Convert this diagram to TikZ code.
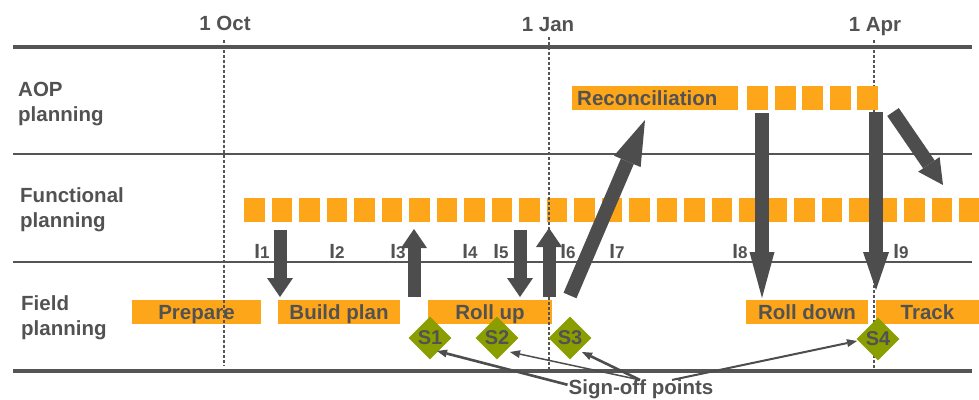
\documentclass[tikz,border=0pt]{standalone}
\usepackage{fontspec}
\setmainfont{Liberation Sans}
\usetikzlibrary{arrows.meta,shapes.geometric,calc}
\definecolor{org}{RGB}{253,166,26}
\definecolor{dg}{RGB}{77,77,77}
\definecolor{olv}{RGB}{138,158,0}
\definecolor{txt}{RGB}{82,82,82}
\definecolor{ln}{RGB}{85,85,85}
\begin{document}
\begin{tikzpicture}[x=1pt,y=-1pt,
  lab/.style={font=\fontsize{20.5}{25}\selectfont\bfseries, text=txt, inner sep=0pt},
  rowlab/.style={lab, anchor=base west, align=left},
  datelab/.style={lab, anchor=base},
  bar/.style={fill=org, draw=none, lab, minimum height=24pt, text height=15pt, text depth=0pt},
  ilab/.style={lab, anchor=base},
  sq/.style={fill=org},
  rowline/.style={draw=ln, line width=2pt},
  edgeline/.style={draw=ln, line width=3.2pt},
  datedash/.style={draw=ln, line width=1.6pt, dash pattern=on 3pt off 2pt},
  bigarrow/.style={draw=dg, line width=13pt},
  sshort/.style={bigarrow, -{Triangle[length=19pt,width=26pt,line width=0pt]}},
  slong/.style={bigarrow, line width=13.5pt, -{Triangle[length=44pt,width=26pt,line width=0pt]}},
  signoff/.style={draw=dg, -{Triangle[length=10pt,width=8pt,line width=0pt]}},
  sdia/.style={diamond, fill=olv, minimum width=43pt, minimum height=43pt, inner sep=0pt,
    font=\fontsize{20}{22}\selectfont\bfseries, text=txt}
]
\useasboundingbox (0,0) rectangle (979,399);

% date labels
\node[datelab] (oct) at (225,30) {1 Oct};
\node[datelab] (jan) at (548,31) {1 Jan};
\node[datelab] (apr) at (875,31) {1 Apr};

% horizontal rules
\draw[edgeline] (13,47) -- (972,47);
\draw[rowline] (13,154) -- (972,154);
\draw[rowline] (13,262) -- (972,262);
\draw[edgeline] (13,371) -- (972,371);

% 1 Apr line (behind bars)
\draw[datedash, line width=1.2pt] (874,40) -- (874,371);

% row labels (base = last line baseline)
\node[rowlab] (aop) at (18,121) {AOP\\planning};
\node[rowlab] (fun) at (20,227) {Functional\\planning};
\node[rowlab] (fld) at (21,335) {Field\\planning};

% functional planning squares
\foreach \i in {0,...,26}{
  \fill[sq] ({244+27.5*\i},198) rectangle ++(20.5,24);
}
% reconciliation bar and squares
\node[bar, anchor=west, inner xsep=5pt, text width=156pt, align=left] (rec) at (572,98) {Reconciliation};
\foreach \i in {0,...,4}{
  \fill[sq] ({747+27.5*\i},86) rectangle ++(21,24);
}

% field bars
\node[bar, minimum width=129pt] (prep) at (196.5,312) {Prepare};
\node[bar, minimum width=122pt] (build) at (339,312) {Build plan};
\node[bar, minimum width=124pt] (rollup) at (490,312) {Roll up};
\node[bar, minimum width=122pt] (rolldown) at (807,312) {Roll down};
\node[bar, minimum width=103pt] (track) at (927.5,312) {Track};

% date dashed lines (over bars)
\draw[datedash] (224,40) -- (224,366);
\draw[datedash] (549,37) -- (549,371);

% interval labels
\foreach \x/\n in {262/1,337/2,398/3,470/4,501/5,568/6,617/7,740/8,901/9}{
  \node[ilab] (i\n) at (\x,258) {I{\fontsize{17}{20}\selectfont\n}};
}

% coordinates for block arrows
\coordinate (a1s) at (280,230); \coordinate (a1e) at (280,297);
\coordinate (a2s) at (414,297); \coordinate (a2e) at (414,229);
\coordinate (a3s) at (520,230); \coordinate (a3e) at (520,297);
\coordinate (a4s) at (549,297); \coordinate (a4e) at (549,228);
\coordinate (a5s) at (570,295.5); \coordinate (a5e) at (645,120);
\coordinate (a6s) at (762,113); \coordinate (a6e) at (762,298);
\coordinate (a7s) at (876,112); \coordinate (a7e) at (876,290);
\coordinate (a8s) at (893,112); \coordinate (a8e) at (943,185);

\draw[sshort] (a1s) -- (a1e);
\draw[sshort] (a2s) -- (a2e);
\draw[sshort] (a3s) -- (a3e);
\draw[sshort] (a4s) -- (a4e);
\draw[bigarrow, line width=14pt, -{Triangle[length=45pt,width=29pt,line width=0pt]}] (a5s) -- (a5e);
\draw[slong, -{Triangle[length=46pt,width=25pt,line width=0pt]}] (a6s) -- (a6e);
\draw[slong, line width=14.5pt, -{Triangle[length=38pt,width=26pt,line width=0pt]}] (a7s) -- (a7e);
\draw[bigarrow, line width=14pt, -{Triangle[length=25pt,width=26pt,line width=0pt]}] (a8s) -- (a8e);

% sign-off diamonds
\node[sdia] (s1) at (430,338) {S1};
\node[sdia] (s2) at (497,338) {S2};
\node[sdia] (s3) at (570,338) {S3};
\node[sdia] (s4) at (878,339) {S4};

% sign-off label and pointers
\node[lab, anchor=base] (sign) at (641,394) {Sign-off points};
\draw[signoff, line width=2.6pt] ([shift={(-1,-4)}]sign.west) -- ([shift={(7,13)}]s1.center);
\draw[signoff, line width=1.5pt] ([shift={(-1,1)}]sign.north) -- ([shift={(13,14)}]s2.center);
\draw[signoff, line width=2.6pt] ([shift={(-1,1)}]sign.north) -- ([shift={(12,14)}]s3.center);
\draw[signoff, line width=2pt] ([shift={(31,1)}]sign.north) -- ([shift={(-21,2)}]s4.center);
\end{tikzpicture}
\end{document}
